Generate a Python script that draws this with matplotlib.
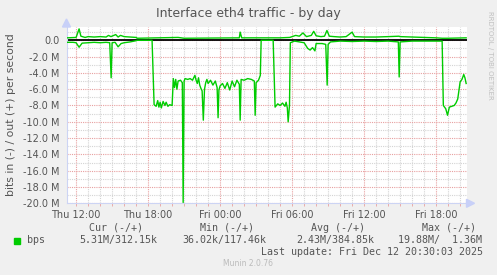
import numpy as np
import matplotlib
matplotlib.use("Agg")
import matplotlib.pyplot as plt
from matplotlib.ticker import MultipleLocator, FixedLocator, FuncFormatter
from matplotlib.patches import Rectangle, Polygon

# czas w godzinach od Thu 00:00, wartosci w Mbit/s
in_t = [11.25, 11.75, 12.0, 12.25, 12.5, 13.0, 13.5, 14.0, 14.5, 14.8, 14.92, 15.0,
        15.25, 15.5, 15.75, 16.0, 16.5, 17.0, 17.1, 18.33, 18.5, 18.67, 18.8, 18.9,
        19.0, 19.1, 19.25, 19.4, 19.5, 19.65, 19.8, 20.0, 20.1, 20.2, 20.3, 20.4,
        20.5, 20.7, 20.85, 20.92, 21.0, 21.08, 21.3, 21.5, 21.7, 21.9, 22.0, 22.1,
        22.2, 22.3, 22.4, 22.5, 22.6, 22.7, 22.8, 22.9, 23.0, 23.2, 23.4, 23.6,
        23.75, 23.83, 23.9, 24.0, 24.2, 24.4, 24.6, 24.8, 25.0, 25.2, 25.4, 25.6,
        25.67, 25.75, 26.0, 26.3, 26.6, 26.85, 26.92, 27.0, 27.2, 27.35, 27.42, 28.42,
        28.58, 28.8, 29.0, 29.2, 29.4, 29.5, 29.6, 29.67, 29.78, 29.85, 30.2, 30.6,
        31.0, 31.3, 31.5, 31.7, 31.9, 32.0, 32.5, 32.8, 32.92, 33.0, 33.2, 34.0,
        35.0, 36.0, 37.0, 38.0, 38.85, 38.92, 39.0, 40.0, 41.0, 42.0, 42.5, 42.6,
        42.8, 42.95, 43.1, 43.3, 43.5, 43.65, 43.8, 44.0, 44.15, 44.3, 44.4, 44.5]
in_v = [0.25, 0.25, 0.3, 0.85, 0.35, 0.3, 0.25, 0.3, 0.25, 0.3, 4.6, 0.3,
        0.25, 0.8, 0.4, 0.3, 0.2, 0.05, 0.0, 0.0, 7.9, 8.1, 7.4, 8.2,
        7.6, 8.3, 7.5, 8.0, 7.6, 8.1, 7.9, 8.0, 4.7, 5.8, 4.8, 6.0,
        5.0, 4.9, 5.2, 19.9, 5.0, 4.7, 4.8, 4.7, 4.9, 4.3, 4.9, 5.3,
        4.6, 5.5, 5.9, 6.2, 9.8, 6.0, 5.2, 4.8, 5.3, 4.9, 5.5, 5.0,
        5.8, 9.5, 6.1, 5.6, 5.3, 5.9, 5.2, 6.1, 5.0, 5.7, 4.9, 5.4,
        9.8, 4.8, 4.9, 4.7, 4.8, 5.0, 9.2, 5.2, 4.9, 4.3, 0.0, 0.0,
        8.2, 7.8, 8.0, 7.7, 8.1, 7.6, 8.3, 10.0, 8.0, 0.3, 0.1, 0.2,
        0.3, 1.0, 1.2, 0.9, 1.3, 0.4, 0.4, 0.5, 5.5, 0.5, 0.2, 0.1,
        0.15, 0.1, 0.15, 0.1, 0.2, 4.5, 0.2, 0.1, 0.1, 0.1, 0.1, 8.0,
        8.4, 9.2, 8.2, 8.1, 8.0, 7.7, 7.2, 5.1, 4.8, 4.2, 4.6, 5.3]

out_t = [11.25, 12.0, 12.25, 12.4, 12.75, 13.0, 13.5, 14.0, 14.5, 14.7, 14.9, 15.3,
         15.5, 15.7, 16.0, 16.5, 17.0, 17.1, 20.5, 21.0, 25.6, 25.67, 25.8, 29.0,
         29.8, 30.3, 30.6, 30.9, 31.2, 31.6, 31.8, 32.0, 32.4, 32.7, 32.9, 33.1,
         33.5, 34.0, 34.5, 35.0, 35.2, 36.0, 37.0, 38.0, 38.9, 39.0, 40.0, 41.0,
         42.0, 42.5, 43.0, 44.5]
out_v = [0.3, 0.35, 1.4, 0.5, 0.35, 0.45, 0.4, 0.45, 0.4, 0.6, 0.45, 0.7,
         0.4, 0.6, 0.45, 0.4, 0.35, 0.25, 0.35, 0.25, 0.3, 1.0, 0.3, 0.3,
         0.35, 0.6, 0.5, 0.9, 0.45, 0.6, 1.1, 0.55, 0.45, 0.5, 1.2, 0.5,
         0.45, 0.4, 0.45, 1.0, 0.45, 0.4, 0.4, 0.45, 0.5, 0.45, 0.4, 0.35,
         0.3, 0.25, 0.25, 0.3]

x_ticks = [12, 18, 24, 30, 36, 42]
x_labels = ["Thu 12:00", "Thu 18:00", "Fri 00:00", "Fri 06:00", "Fri 12:00", "Fri 18:00"]

legend_head = ["Cur (-/+)", "Min (-/+)", "Avg (-/+)", "Max (-/+)"]
legend_vals = ["5.31M/312.15k", "36.02k/117.46k", "2.43M/384.85k", "19.88M/  1.36M"]

W, H = 497, 275
fig = plt.figure(figsize=(W / 100, H / 100), dpi=100, facecolor="#f0f0f0")


def fx(px):
    return px / W


def fy(py):
    return 1 - py / H


left, right, top, bottom = 66.5, 466.5, 27, 203.3
ax = fig.add_axes([fx(left), fy(bottom), (right - left) / W, (bottom - top) / H])
ax.set_facecolor("white")
ax.set_xlim(11.2, 44.53)
ax.set_ylim(-20, 1.63)

grid_minor = "#d4d4d4"
grid_major = "#e8a0a0"
ax.xaxis.set_major_locator(FixedLocator(x_ticks))
ax.xaxis.set_minor_locator(MultipleLocator(1))
ax.yaxis.set_major_locator(MultipleLocator(2))
ax.yaxis.set_minor_locator(MultipleLocator(1))
ax.set_xticklabels(x_labels)
ax.yaxis.set_major_formatter(FuncFormatter(lambda v, p: "0.0" if abs(v) < 1e-9 else f"{v:.1f} M"))
ax.grid(which="minor", color=grid_minor, linestyle=(0, (1, 1)), linewidth=0.8)
ax.grid(which="major", color=grid_major, linestyle=(0, (1, 1)), linewidth=0.8)
ax.set_axisbelow(True)
ax.tick_params(which="both", length=2, width=0.6, colors="#e8a0a0", labelcolor="#555555",
               labelsize=7, pad=3)
ax.tick_params(axis="y", which="both", length=0, pad=5)
for s in ["top", "right"]:
    ax.spines[s].set_visible(False)
for s in ["left", "bottom"]:
    ax.spines[s].set_color("#ccd4f4")
    ax.spines[s].set_linewidth(0.8)

ax.axhline(0, color="black", linewidth=1.3, zorder=2)
ax.plot(in_t, -np.array(in_v), color="#00cc00", linewidth=1.0, zorder=3)
ax.plot(out_t, out_v, color="#00cc00", linewidth=1.0, zorder=3)

# strzalki osi
arrow_c = "#c8d0f8"
fig.add_artist(Polygon([[fx(62.5), fy(27)], [fx(70.5), fy(27)], [fx(66.5), fy(19)]],
                       closed=True, color=arrow_c, transform=fig.transFigure))
fig.add_artist(Polygon([[fx(466.5), fy(199.3)], [fx(466.5), fy(207.3)], [fx(474.5), fy(203.3)]],
                       closed=True, color=arrow_c, transform=fig.transFigure))

txt = "#555555"
fig.text(fx(248), fy(13), "Interface eth4 traffic - by day", ha="center", va="center",
         fontsize=9, color=txt)
fig.text(fx(11), fy(115), "bits in (-) / out (+) per second", rotation=90,
         ha="center", va="center", fontsize=7.8, color=txt)
fig.text(fx(490), fy(55), "RRDTOOL / TOBI OETIKER", rotation=270, ha="center", va="center",
         fontsize=5, color="#c0c0c0")

mono = "DejaVu Sans Mono"
head_x = [116, 227, 338, 449]
val_x = [118, 224, 335, 440]
for hx, h in zip(head_x, legend_head):
    fig.text(fx(hx), fy(228), h, ha="center", va="center", fontsize=7.2, color=txt, family=mono)
for vx, v in zip(val_x, legend_vals):
    fig.text(fx(vx), fy(240), v, ha="center", va="center", fontsize=7.2, color=txt, family=mono)
fig.add_artist(Rectangle((fx(14), fy(243.5)), 6 / W, 6 / H, color="#00cc00",
                         transform=fig.transFigure))
fig.text(fx(27), fy(240), "bps", ha="left", va="center", fontsize=7.2, color=txt, family=mono)
fig.text(fx(483), fy(252), "Last update: Fri Dec 12 20:30:03 2025", ha="right", va="center",
         fontsize=7.2, color=txt, family=mono)
fig.text(fx(248), fy(263), "Munin 2.0.76", ha="center", va="center", fontsize=5.5,
         color="#bbbbbb")

fig.savefig("out.png", dpi=100, facecolor=fig.get_facecolor())
